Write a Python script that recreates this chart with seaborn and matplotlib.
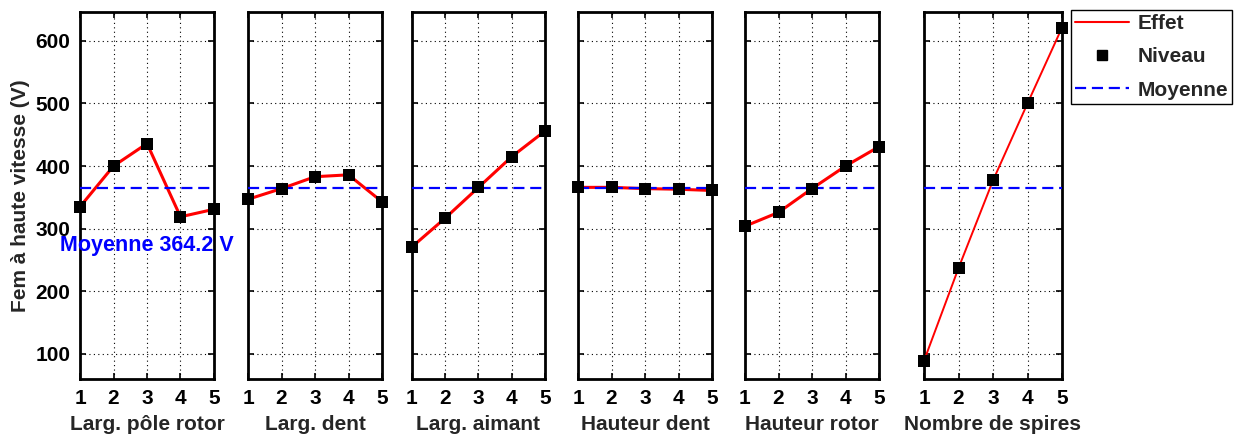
import matplotlib
matplotlib.use("Agg")
import matplotlib.pyplot as plt
import seaborn as sns
import pandas as pd
import numpy as np
from matplotlib.lines import Line2D

sns.set_style("ticks")
plt.rcParams['font.family'] = ['Liberation Sans', 'DejaVu Sans']
plt.rcParams['font.weight'] = 'bold'

# ---- data ----
levels = [1, 2, 3, 4, 5]
factors = ["Larg. pôle rotor", "Larg. dent", "Larg. aimant",
           "Hauteur dent", "Hauteur rotor", "Nombre de spires"]
larg_pole_rotor = [335, 400, 436, 319, 331]
larg_dent = [347, 364, 383, 386, 343]
larg_aimant = [271, 317, 366, 415, 456]
hauteur_dent = [366, 366, 364, 363, 361]
hauteur_rotor = [304, 326, 364, 400, 431]
nombre_spires = [89, 237, 377, 500, 621]
moyenne = 364.2
yticks = [100, 200, 300, 400, 500, 600]
ylabel = "Fem à haute vitesse (V)"
legend_labels = ["Effet", "Niveau", "Moyenne"]

series = [larg_pole_rotor, larg_dent, larg_aimant,
          hauteur_dent, hauteur_rotor, nombre_spires]

W, H = 1242, 434
fig = plt.figure(figsize=(W / 100, H / 100), dpi=100)

# panel pixel extents (left, right); top/bottom shared
xs = [(80, 214), (248, 382), (412, 545), (578, 712), (745, 879), (924, 1062)]
top_px, bot_px = 12, 379

fs = 15
for i, (name, vals) in enumerate(zip(factors, series)):
    l, r = xs[i]
    ax = fig.add_axes([l / W, 1 - bot_px / H, (r - l) / W, (bot_px - top_px) / H])
    df = pd.DataFrame({"niveau": levels, "fem": vals})
    mdf = pd.DataFrame({"niveau": [levels[0], levels[-1]], "fem": [moyenne, moyenne]})
    lw_red = 2.2 if i < 5 else 1.4
    sns.lineplot(data=df, x="niveau", y="fem", color="red", lw=lw_red, ax=ax, zorder=3)
    sns.lineplot(data=mdf, x="niveau", y="fem", color="blue", lw=1.6, ax=ax,
                 zorder=4, dashes=False)
    ax.lines[-1].set_dashes((5.0, 2.6))
    sns.scatterplot(data=df, x="niveau", y="fem", marker="s", color="black",
                    s=66, edgecolor="black", linewidth=0, ax=ax, zorder=5, clip_on=False)
    ax.set_xlim(1, 5)
    ax.set_ylim(60, 646)
    ax.set_xticks(levels)
    ax.set_yticks(yticks)
    ax.grid(True, color="black", linestyle=(0, (1, 3)), linewidth=0.8)
    ax.tick_params(direction="in", length=4, width=1.2, top=True, right=True,
                   labelsize=fs, pad=7, colors="black")
    for t in ax.get_xticklabels() + ax.get_yticklabels():
        t.set_fontweight("bold")
    if i > 0:
        ax.set_yticklabels([])
        ax.set_ylabel("")
    else:
        ax.set_ylabel(ylabel, fontsize=fs, fontweight="bold", labelpad=4)
    ax.set_xlabel(name, fontsize=fs, fontweight="bold", labelpad=5)
    for sp in ax.spines.values():
        sp.set_linewidth(2.0)
        sp.set_color("black")
        sp.set_visible(True)
    if i == 0:
        ax.text(3, 273, f"Moyenne {moyenne} V", color="blue", fontsize=15.5,
                fontweight="bold", ha="center", va="center", clip_on=False, zorder=6)

handles = [
    Line2D([], [], color="red", lw=1.5),
    Line2D([], [], color="black", marker="s", ls="none", markersize=7),
    Line2D([], [], color="blue", lw=1.6, dashes=(5.0, 2.6)),
]
leg = fig.legend(handles, legend_labels, loc="upper left",
                 bbox_to_anchor=(1071 / W, 1 - 10 / H), borderaxespad=0,
                 prop={"size": 15, "weight": "bold"}, fancybox=False,
                 framealpha=1, edgecolor="black", handlelength=2.6,
                 handletextpad=0.4, borderpad=0.2, labelspacing=0.68)
leg.get_frame().set_linewidth(1.0)

fig.savefig("out.png", dpi=100, facecolor="white")
